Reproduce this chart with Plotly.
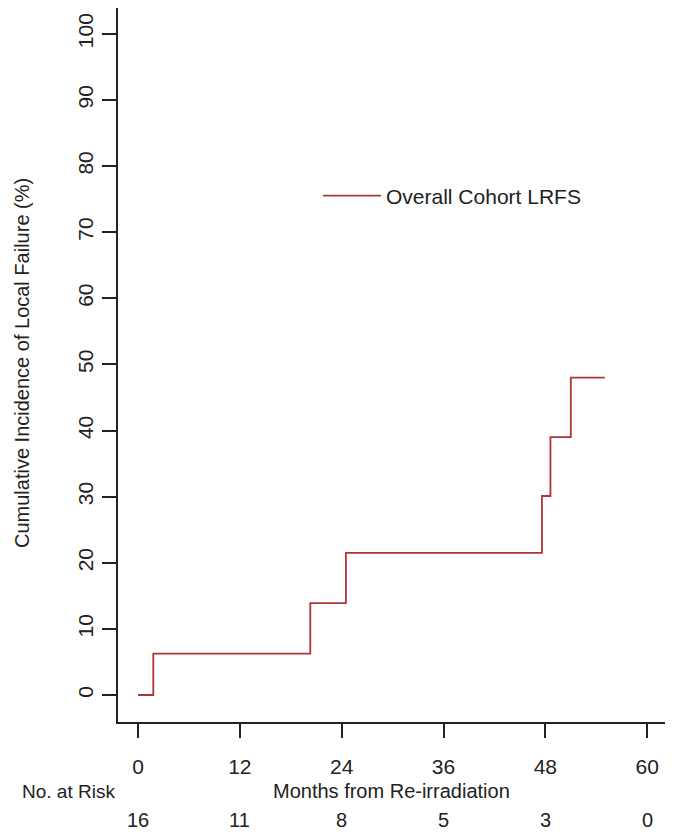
import plotly.graph_objects as go

# Data: step function of cumulative incidence
months = [0, 1.8, 20.3, 24.5, 47.6, 48.6, 51.0, 55.0]
incidence = [0, 6.25, 13.9, 21.5, 30.1, 39.0, 48.0, 48.0]

x_ticks = [0, 12, 24, 36, 48, 60]
y_ticks = [0, 10, 20, 30, 40, 50, 60, 70, 80, 90, 100]
at_risk = [16, 11, 8, 5, 3, 0]

line_color = "#B03434"
font_family = "Liberation Sans, Arial, sans-serif"
txt = "#222"

fig = go.Figure()
fig.add_trace(go.Scatter(
    x=months, y=incidence, mode="lines", line_shape="hv",
    line=dict(color=line_color, width=1.8),
    name="Overall Cohort LRFS", showlegend=True,
))

W, H = 675, 836
left, right, top, bottom = 118, 10, 8, 114
pw = W - left - right
ph = H - top - bottom

annotations = []
# number at risk row
for xv, n in zip(x_ticks, at_risk):
    annotations.append(dict(x=xv, y=(722 - 820) / ph, xref="x", yref="paper",
                            text=str(n), showarrow=False,
                            font=dict(size=20, color=txt, family=font_family),
                            xanchor="center", yanchor="middle"))
annotations.append(dict(x=(68 - left) / pw, y=(722 - 791) / ph, xref="paper", yref="paper",
                        text="No. at Risk", showarrow=False,
                        font=dict(size=19, color=txt, family=font_family),
                        xanchor="center", yanchor="middle"))
annotations.append(dict(x=0.5, y=(722 - 791) / ph, xref="paper", yref="paper",
                        text="Months from Re-irradiation", showarrow=False,
                        font=dict(size=20, color=txt, family=font_family),
                        xanchor="center", yanchor="middle"))
annotations.append(dict(x=(22 - left) / pw, y=(722 - 363) / ph, xref="paper", yref="paper",
                        text="Cumulative Incidence of Local Failure (%)", showarrow=False,
                        textangle=-90,
                        font=dict(size=20, color=txt, family=font_family),
                        xanchor="center", yanchor="middle"))

fig.update_layout(
    width=W, height=H,
    margin=dict(l=left, r=right, t=top, b=bottom),
    paper_bgcolor="white", plot_bgcolor="white",
    font=dict(family=font_family, size=20, color=txt),
    showlegend=True,
    legend=dict(x=(318 - left) / pw, y=(722 - 196) / ph, xanchor="left", yanchor="middle",
                bgcolor="rgba(0,0,0,0)", font=dict(size=21, color=txt, family=font_family),
                itemwidth=58),
    annotations=annotations,
)
fig.update_xaxes(
    range=[-2.36, 62.1], tickvals=x_ticks, ticktext=[str(v) for v in x_ticks],
    showline=True, linecolor=txt, linewidth=1.5, mirror=False,
    ticks="outside", ticklen=14, tickcolor=txt, tickwidth=1.5,
    showgrid=False, zeroline=False, ticklabelstandoff=11,
    tickfont=dict(size=21, color=txt, family=font_family),
)
fig.update_yaxes(
    range=[-4.08, 103.9], tickvals=y_ticks, ticktext=[str(v) for v in y_ticks],
    showline=True, linecolor=txt, linewidth=1.5, mirror=False,
    ticks="outside", ticklen=14, tickcolor=txt, tickwidth=1.5,
    showgrid=False, zeroline=False, tickangle=-90, ticklabelstandoff=1,
    tickfont=dict(size=21, color=txt, family=font_family),
)

fig.write_html("out.html")
